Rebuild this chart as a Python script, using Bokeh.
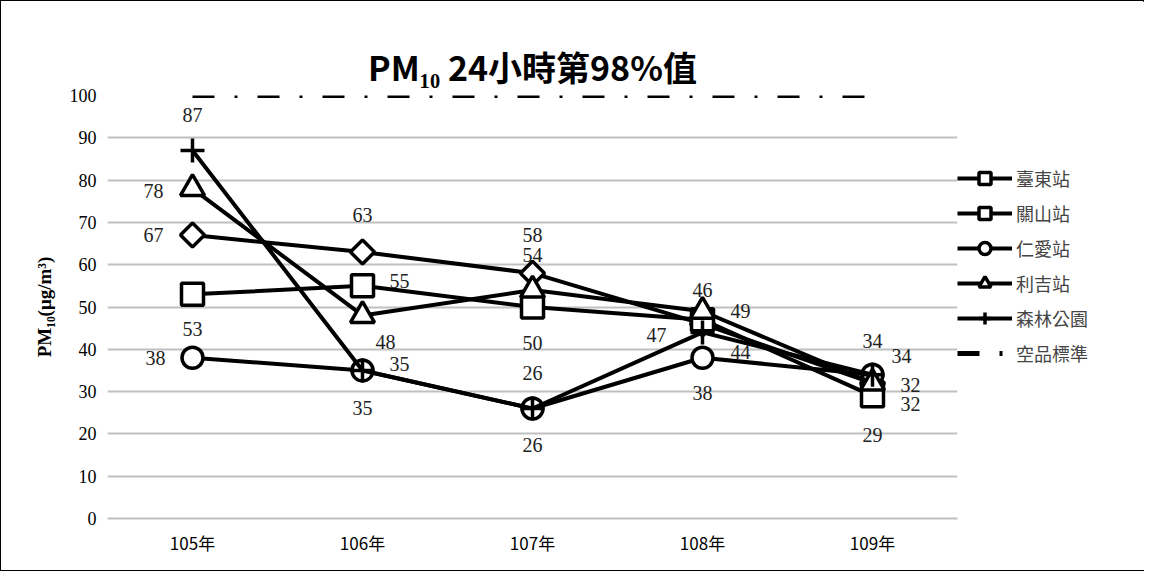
from bokeh.plotting import figure
from bokeh.models import Legend, LegendItem, ColumnDataSource, Title
from bokeh.core.properties import value
from bokeh.embed import file_html
from bokeh.resources import INLINE
import math

years = ["105年", "106年", "107年", "108年", "109年"]
names = ["臺東站", "關山站", "仁愛站", "利吉站", "森林公園"]
taitung = [67, 63, 58, 46, 32]
guanshan = [53, 55, 50, 47, 29]
renai = [38, 35, 26, 38, 34]
liji = [78, 48, 54, 49, 32]
forest = [87, 35, 26, 44, 34]
standard = [100, 100, 100, 100, 100]

# label offsets in px (dx, dy), per point
offsets = {
    "臺東站": [(-39, 0), (0, -37), (0, -38), (0, -34), (38, 2)],
    "關山站": [(0, 35), (37, -5), (0, 36), (-46, 15), (0, 39)],
    "仁愛站": [(-37, 0), (37, -6), (0, -36), (0, 35), (29, -19)],
    "利吉站": [(-39, 2), (23, 27), (0, -35), (38, 0), (38, 21)],
    "森林公園": [(0, -35), (0, 38), (0, 36), (38, 20), (0, -34)],
}
markers = {"臺東站": "square", "關山站": "square", "仁愛站": "circle",
           "利吉站": "triangle", "森林公園": "cross"}
angles = {"臺東站": math.pi / 4}
sizes = {"臺東站": 17, "關山站": 22, "仁愛站": 21, "利吉站": 24, "森林公園": 24}
series = dict(zip(names, [taitung, guanshan, renai, liji, forest]))

SERIF = "Liberation Serif"
CJK = "Noto Sans CJK TC"

p = figure(x_range=years, y_range=(0, 100), frame_width=850, frame_height=423,
           output_backend="svg", toolbar_location=None,
           min_border_left=106, min_border_right=0,
           min_border_top=94, min_border_bottom=52)
p.styles = {"border": "1px solid black", "box-sizing": "border-box",
            "width": "1144px", "height": "571px"}
p.outline_line_color = None
p.background_fill_color = "white"

p.add_layout(Title(text="PM₁₀ 24小時第98%值", align="center", text_font=CJK,
                   text_font_style="bold", text_font_size="34px", text_color="black",
                   standoff=10), "above")

p.xgrid.grid_line_color = None
p.ygrid.grid_line_color = "#c0c0c0"
p.ygrid.grid_line_width = 2
p.yaxis.ticker = list(range(0, 101, 10))
for ax in (p.xaxis, p.yaxis):
    ax.axis_line_color = "#c0c0c0"
    ax.axis_line_width = 2
    ax.major_tick_line_color = None
    ax.minor_tick_line_color = None
    ax.major_label_text_font = SERIF
    ax.major_label_text_font_size = "18px"
    ax.major_label_text_color = "black"
p.xaxis.major_label_text_font = CJK
p.xaxis.major_label_text_font_size = "17px"
p.yaxis.axis_line_color = None
p.yaxis.axis_label = "PM₁₀(μg/m³)"
p.yaxis.axis_label_text_font = SERIF
p.yaxis.axis_label_text_font_style = "bold"
p.yaxis.axis_label_text_font_size = "19px"
p.yaxis.axis_label_text_color = "black"
p.yaxis.axis_label_standoff = 12

items = []
for name in names:
    vals = series[name]
    ln = p.line(years, vals, line_color="black", line_width=4)
    sc = p.scatter(years, vals, marker=markers[name], size=sizes[name],
                   angle=angles.get(name, 0),
                   fill_color="white", line_color="black", line_width=3.5)
    src = ColumnDataSource(dict(x=years, y=vals, t=[str(v) for v in vals],
                                dx=[o[0] for o in offsets[name]],
                                dy=[o[1] for o in offsets[name]]))
    p.text("x", "y", text="t", source=src, x_offset="dx", y_offset="dy",
           text_align="center", text_baseline="middle", text_font_size="20px",
           text_font=value(SERIF), text_color="#222222")
    items.append(LegendItem(label=name, renderers=[ln, sc]))

std = p.line(years, standard, line_color="black", line_width=5, line_dash="22 20 3 20")
items.append(LegendItem(label="空品標準", renderers=[std]))

legend = Legend(items=items, location="top_left", glyph_width=55, glyph_height=30,
                label_text_font=CJK, label_text_font_size="18px", spacing=5,
                label_standoff=4, title=" ", title_text_font_size="30px", title_standoff=34,
                border_line_color=None, background_fill_alpha=0, padding=2, margin=0)
p.add_layout(legend, "right")

open("out.html", "w").write(file_html(p, INLINE))
